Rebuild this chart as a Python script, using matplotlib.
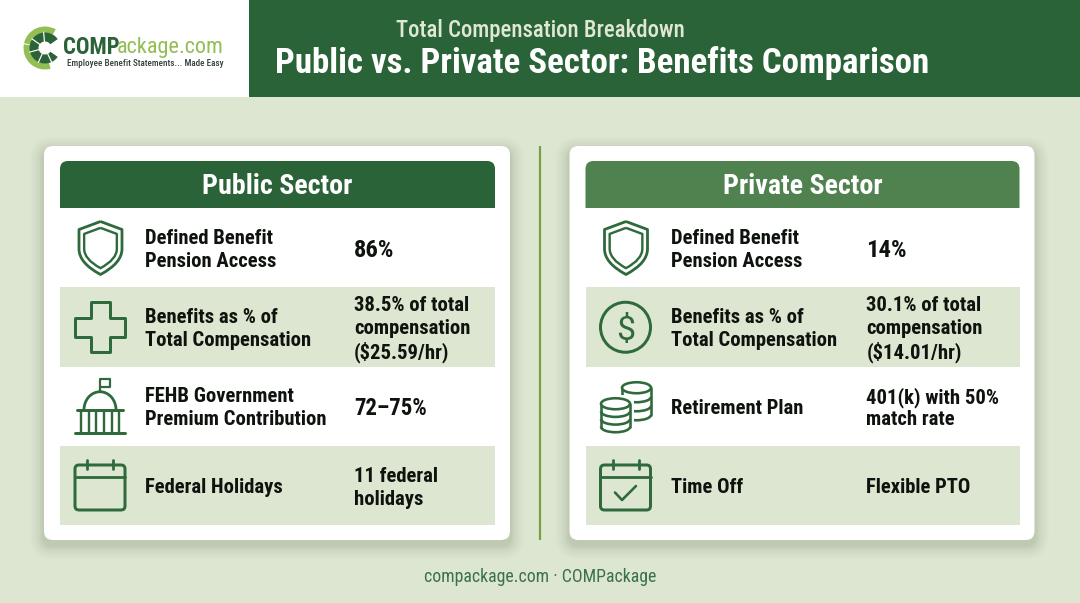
import matplotlib
matplotlib.use('Agg')
import numpy as np
import matplotlib.pyplot as plt
from matplotlib.patches import Rectangle, FancyBboxPatch, Circle, Wedge, Ellipse, PathPatch, Arc
from matplotlib.path import Path

plt.rcParams['font.family'] = ['Roboto Condensed', 'Roboto', 'DejaVu Sans']

# ---- content ----
subtitle = "Total Compensation Breakdown"
title = "Public vs. Private Sector: Benefits Comparison"
footer = "compackage.com · COMPackage"
public_head = "Public Sector"
private_head = "Private Sector"
public_labels = ["Defined Benefit\nPension Access", "Benefits as % of\nTotal Compensation",
                 "FEHB Government\nPremium Contribution", "Federal Holidays"]
public_values = ["86%", "38.5% of total\ncompensation\n($25.59/hr)", "72–75%", "11 federal\nholidays"]
private_labels = ["Defined Benefit\nPension Access", "Benefits as % of\nTotal Compensation",
                  "Retirement Plan", "Time Off"]
private_values = ["14%", "30.1% of total\ncompensation\n($14.01/hr)", "401(k) with 50%\nmatch rate", "Flexible PTO"]
public_icons = ["shield", "plus", "capitol", "calendar"]
private_icons = ["shield", "dollar", "coins", "calcheck"]

BG = '#dde6d0'
DARK = '#2a6337'
MID = '#4f824f'
LIME = '#93bd55'
ICON = '#2f6a3c'
INK = '#0e130e'

fig = plt.figure(figsize=(10.8, 6.03), dpi=100, facecolor=BG)
ax = fig.add_axes([0, 0, 1, 1])
ax.set_xlim(0, 1080)
ax.set_ylim(603, 0)
ax.axis('off')

def px(v):
    return v * 0.72

def rect(x0, y0, x1, y1, color, z=2):
    ax.add_patch(Rectangle((x0, y0), x1 - x0, y1 - y0, fc=color, ec='none', zorder=z))

def path(verts, lw=2.6, closed=False, color=ICON, z=5):
    codes = [Path.MOVETO] + [Path.LINETO] * (len(verts) - 1)
    if closed:
        verts = list(verts) + [verts[0]]
        codes = codes + [Path.CLOSEPOLY]
    ax.add_patch(PathPatch(Path(verts, codes), fc='none', ec=color, lw=px(lw), zorder=z,
                           capstyle='round', joinstyle='round'))

def top_rounded(x0, y0, x1, y1, r, color, z=3):
    v = [(x0, y1), (x0, y0 + r), (x0, y0), (x0 + r, y0), (x1 - r, y0), (x1, y0), (x1, y0 + r), (x1, y1), (x0, y1)]
    c = [Path.MOVETO, Path.LINETO, Path.CURVE3, Path.CURVE3, Path.LINETO, Path.CURVE3, Path.CURVE3,
         Path.LINETO, Path.CLOSEPOLY]
    ax.add_patch(PathPatch(Path(v, c), fc=color, ec='none', zorder=z))

def line_text(x, yc, s, size, step):
    lines = s.split('\n')
    y0 = yc - step * (len(lines) - 1) / 2
    for i, ln in enumerate(lines):
        ax.text(x, y0 + i * step, ln, fontsize=px(size), va='center_baseline', ha='left',
                color=INK, fontweight='bold', zorder=6)

def shield(cx, cy, k=1.0, lw=2.8):
    top, bot, hw = -26.5 * k, 26.5 * k, 21.5 * k
    v = Path([(cx, cy + top), (cx + hw, cy + top + 8 * k), (cx + hw, cy + 1 * k),
              (cx + hw, cy + 15 * k), (cx, cy + bot), (cx, cy + bot),
              (cx - hw, cy + 15 * k), (cx - hw, cy + 1 * k), (cx - hw, cy + top + 8 * k), (cx, cy + top)],
             [Path.MOVETO, Path.LINETO, Path.LINETO, Path.CURVE3, Path.CURVE3, Path.LINETO,
              Path.CURVE3, Path.CURVE3, Path.LINETO, Path.LINETO])
    ax.add_patch(PathPatch(v, fc='none', ec=ICON, lw=px(lw), zorder=5, joinstyle='round'))

def draw_shield(cx, cy):
    shield(cx + 0.5, cy, 1.0)
    shield(cx + 0.5, cy, 0.76, 2.4)

def draw_plus(cx, cy):
    a, b = 9.5, 25
    path([(cx - a, cy - b), (cx + a, cy - b), (cx + a, cy - a), (cx + b, cy - a), (cx + b, cy + a),
          (cx + a, cy + a), (cx + a, cy + b), (cx - a, cy + b), (cx - a, cy + a), (cx - b, cy + a),
          (cx - b, cy - a), (cx - a, cy - a)], lw=3, closed=True)

def draw_dollar(cx, cy):
    ax.add_patch(Circle((cx, cy), 25, fc='none', ec=ICON, lw=px(3), zorder=5))
    ax.text(cx, cy, "$", fontsize=px(34), ha='center', va='center_baseline', color=ICON,
            fontfamily='Roboto', fontweight='normal', zorder=6)

def draw_capitol(cx, cy):
    path([(cx - 25, cy + 26), (cx + 25, cy + 26)], lw=3)
    path([(cx - 23, cy + 3.5), (cx + 23, cy + 3.5)], lw=3)
    for dx in (-19, -11.5, -4, 4, 11.5, 19):
        path([(cx + dx, cy + 4), (cx + dx, cy + 25)], lw=2.4)
    ax.add_patch(Arc((cx, cy + 3), 32, 36, theta1=180, theta2=360, ec=ICON, lw=px(2.8), zorder=5))
    path([(cx, cy - 15), (cx, cy - 27)], lw=2.2)
    path([(cx, cy - 27.5), (cx + 10, cy - 27.5), (cx + 10, cy - 19.5), (cx, cy - 19.5)], lw=2.2)

def draw_calendar(cx, cy, check=False):
    ax.add_patch(FancyBboxPatch((cx - 23, cy - 19), 46, 41, boxstyle='round,pad=2,rounding_size=4',
                                fc='none', ec=ICON, lw=px(3), zorder=5))
    path([(cx - 25, cy - 9), (cx + 25, cy - 9)], lw=2.8)
    for dx in (-13, 13):
        path([(cx + dx, cy - 26), (cx + dx, cy - 17)], lw=2.8)
    if check:
        path([(cx - 10.5, cy + 6.5), (cx - 3.5, cy + 14), (cx + 10.5, cy)], lw=2.6)

def coin_stack(cx, top, bottom, hw=14.5, ell=11, n=3, z=5.0):
    step = (bottom - top - ell) / n
    for i in range(1, n + 1):
        y = top + ell / 2 + i * step
        ax.add_patch(Arc((cx, y), hw * 2, ell, theta1=0, theta2=180, ec=ICON, lw=px(2.6), zorder=z))
    ya = top + ell / 2
    yb = bottom - ell / 2
    path([(cx - hw, ya), (cx - hw, yb)], lw=2.6, z=z)
    path([(cx + hw, ya), (cx + hw, yb)], lw=2.6, z=z)
    ax.add_patch(Ellipse((cx, ya), hw * 2, ell, fc='white', ec=ICON, lw=px(2.6), zorder=z + 0.01))

def draw_coins(cx, cy):
    coin_stack(cx + 11, cy - 24.5, cy + 13.5)
    rect(cx - 28, cy - 12, cx + 8.5, cy + 28, 'white', 5.1)
    coin_stack(cx - 10, cy - 8.5, cy + 25.5, z=5.2)

def draw_icon(name, cx, cy):
    if name == 'shield':
        draw_shield(cx, cy)
    elif name == 'plus':
        draw_plus(cx, cy)
    elif name == 'dollar':
        draw_dollar(cx, cy)
    elif name == 'capitol':
        draw_capitol(cx, cy)
    elif name == 'calendar':
        draw_calendar(cx, cy)
    elif name == 'calcheck':
        draw_calendar(cx, cy, True)
    elif name == 'coins':
        draw_coins(cx, cy)

# ---- header band ----
rect(0, 0, 249, 97, 'white')
rect(249, 0, 1080, 97, DARK)
ax.text(540, 28, subtitle, fontsize=px(22.8), color='#dfe8d4', ha='center', va='center_baseline',
        fontweight='medium', zorder=6)
ax.text(602.5, 60, title, fontsize=px(34.9), color='white', ha='center', va='center_baseline',
        fontweight='bold', zorder=6)

# ---- logo ----
lc = (45, 48)
ax.add_patch(Wedge(lc, 21.5, 75, 190, width=6.5, fc=LIME, ec='none', zorder=4))
ax.add_patch(Wedge(lc, 21.5, 193, 300, width=6.5, fc=LIME, ec='none', zorder=4))
ax.add_patch(Wedge(lc, 15.5, 35, 325, width=9, fc=DARK, ec='none', zorder=4))
for ang in (95, 145, 195, 245, 295):
    t = np.radians(ang)
    path([(lc[0] + 5 * np.cos(t), lc[1] - 5 * np.sin(t)), (lc[0] + 16 * np.cos(t), lc[1] - 16 * np.sin(t))],
         lw=1.2, color='white')
ax.text(62.5, 45.5, "COMP", fontsize=px(22.8), color=DARK, ha='left', va='center_baseline', fontweight='bold',
        fontfamily='Roboto Condensed', zorder=6)
ax.text(117, 45.5, "ackage.com", fontsize=px(22.3), color=LIME, ha='left', va='center_baseline',
        fontfamily='Roboto Condensed', zorder=6)
ax.text(67, 63, "Employee Benefit Statements... Made Easy", fontsize=px(9.2), color='#33413a',
        ha='left', va='center_baseline', fontfamily='Roboto Condensed', fontweight='medium', zorder=6)

# ---- divider ----
ax.plot([539.5, 539.5], [146, 540], color='#77a045', lw=px(2.2), zorder=2, solid_capstyle='butt')

# ---- cards ----
rows_y = [(208, 287), (287, 366.5), (366.5, 446), (446, 525)]

def card(x0, x1, head, head_color, labels, values, icons, label_dx, value_dx):
    # soft shadow
    for grow, alpha in [(14, .012), (12, .014), (10, .017), (8, .02), (6, .024), (4, .03), (2, .035)]:
        ax.add_patch(FancyBboxPatch((x0 - grow, 146 - grow + 5), x1 - x0 + 2 * grow, 394 + 2 * grow,
                                    boxstyle='round,pad=0,rounding_size=%g' % (9 + grow), fc='#23391f', ec='none',
                                    alpha=alpha, zorder=1.5))
    ax.add_patch(FancyBboxPatch((x0, 146), x1 - x0, 394, boxstyle='round,pad=0,rounding_size=9',
                                fc='white', ec='none', zorder=2))
    hx0, hx1 = x0 + 16, x1 - 15
    top_rounded(hx0, 161, hx1, 208, 8, head_color)
    ax.text((hx0 + hx1) / 2, 184, head, fontsize=px(28), fontweight='bold', color='white',
            ha='center', va='center_baseline', zorder=6)
    for i, ((ya, yb), lab, val, ic) in enumerate(zip(rows_y, labels, values, icons)):
        if i % 2 == 1:
            rect(hx0, ya, hx1, yb, BG, 3)
        yc = (ya + yb) / 2 + 1
        draw_icon(ic, x0 + 56, yc - 0.5)
        line_text(x0 + label_dx, yc - 0.8, lab, 20.6, 23)
        vsize = 24.5 if len(val) <= 3 else (22.8 if len(val) <= 6 else 20.6)
        line_text(x0 + value_dx, yc - 0.8, val, vsize, 23)

card(44, 510, public_head, DARK, public_labels, public_values, public_icons, 101, 310)
card(569.5, 1034.5, private_head, MID, private_labels, private_values, private_icons, 101.5, 297)

# ---- footer ----
ax.text(540, 575, footer, fontsize=px(17.8), color='#3a7148', ha='center', va='center_baseline', zorder=6)

fig.savefig('out.png', dpi=100, facecolor=BG)
